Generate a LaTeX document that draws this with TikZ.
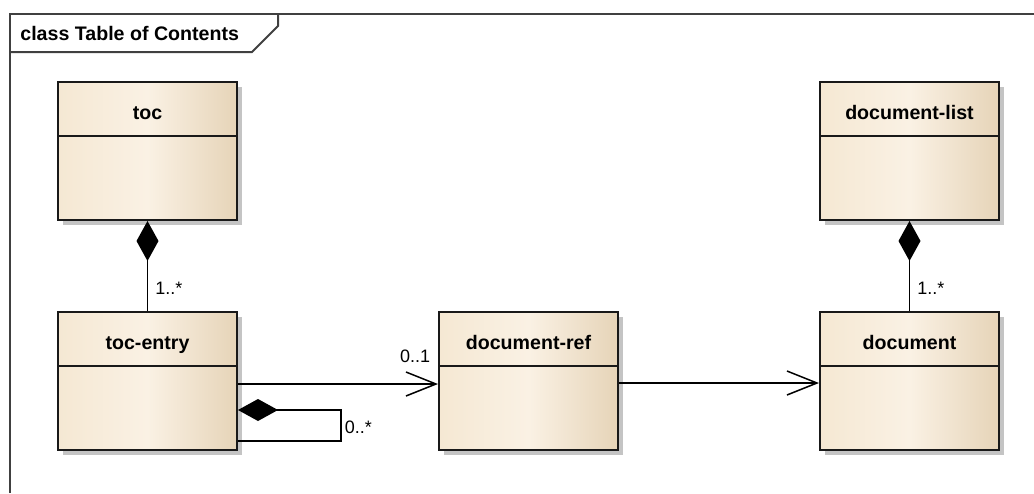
\documentclass[tikz,border=0pt]{standalone}
\usepackage{fontspec}
\setmainfont{Liberation Sans}
\usepackage{xcolor}
\usetikzlibrary{positioning,arrows.meta,shadows}

\definecolor{clsleft}{HTML}{F5E8D3}
\definecolor{clsmid}{HTML}{FAF1E4}
\definecolor{clsright}{HTML}{E6D4B8}
\definecolor{framegray}{HTML}{404040}

\begin{document}
\begin{tikzpicture}[
    x=0.5pt, y=-0.5pt,
    node distance=45pt,
    cls/.style={draw=black!90, line width=1pt, rectangle, inner sep=0pt,
        minimum width=89.5pt, minimum height=69pt,
        text height=18.5pt, text depth=50.5pt,
        left color=clsleft, right color=clsright, middle color=clsmid,
        font=\bfseries\fontsize{9.8}{12}\selectfont,
        drop shadow={shadow xshift=2.5pt, shadow yshift=-2.5pt, fill=black!23, opacity=1},
        path picture={\draw[line width=1pt, black!90]
            ([yshift=-27pt]path picture bounding box.north west) --
            ([yshift=-27pt]path picture bounding box.north east);}},
    comp/.style={line width=0.75pt, -{Diamond[length=20pt, width=11pt]}},
    assoc/.style={line width=0.75pt, -{Straight Barb[length=15pt, width=12pt]}},
    mult/.style={font=\fontsize{9}{11}\selectfont, inner sep=0pt},
    frame/.style={draw=framegray, line width=1pt}
]
    \useasboundingbox (0,0) rectangle (1034,493);

    % diagram frame and title tab
    \draw[frame] (10,493) -- (10,14) -- (1034,14);
    \draw[frame] (10,52) -- (252,52) -- (278,26) -- (278,14);
    \node[anchor=west, inner sep=0pt, font=\bfseries\fontsize{9.8}{12}\selectfont] (title) at (20,33) {class Table of Contents};

    % classes
    \node [cls] (toc) at (147.5,151) {toc};
    \node [cls, below=of toc] (tocentry) {toc-entry};
    \node [cls, right=100pt of tocentry] (docref) {document-ref};
    \node [cls, right=100pt of docref] (doc) {document};
    \node [cls, above=of doc] (doclist) {document-list};

    % connectors
    \draw[comp] (tocentry) -- (toc) node[mult, pos=0.25, anchor=west, xshift=3.5pt] {1..*};
    \draw[comp] (doc) -- (doclist) node[mult, pos=0.25, anchor=west, xshift=3.5pt] {1..*};
    \draw[assoc] ([yshift=-1.5pt]tocentry.east) -- ([yshift=-1.5pt]docref.west)
        node[mult, pos=1, anchor=base east, xshift=-3.5pt, yshift=11pt] {0..1};
    \draw[assoc] ([yshift=-1pt]docref.east) -- ([yshift=-1pt]doc.west);
    \draw[comp] ([yshift=-30pt]tocentry.east) -| ++(51.5pt,15.5pt)
        node[mult, pos=0.62, anchor=base west, xshift=1.5pt] {0..*}
        -- ([yshift=-14.5pt]tocentry.east);
\end{tikzpicture}
\end{document}
